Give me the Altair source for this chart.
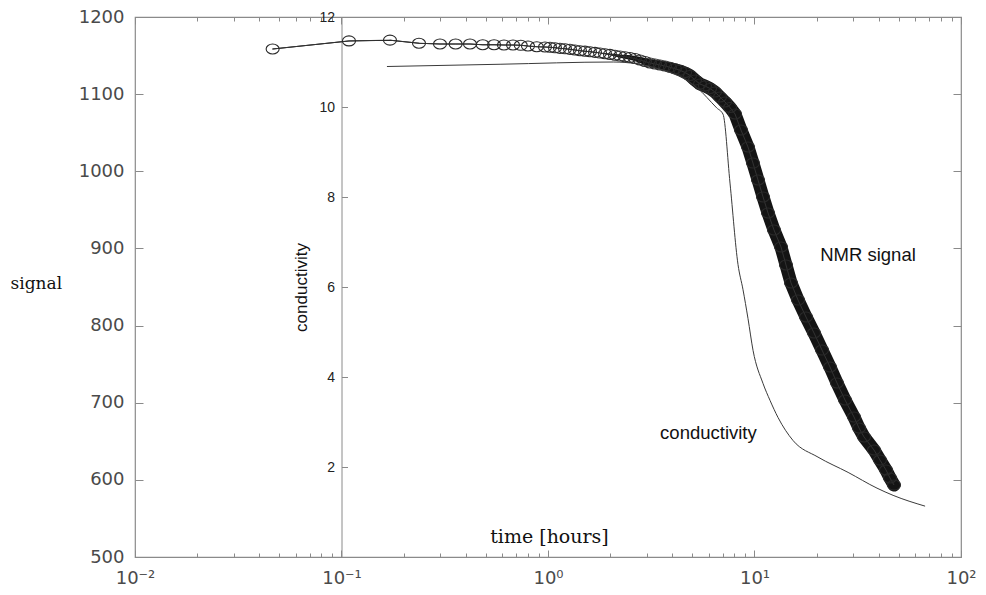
import json
import altair as alt
import pandas as pd

# ---------------- data ----------------
nmr_t = [0.0464, 0.1087, 0.1717, 0.2373, 0.2999, 0.357, 0.419, 0.483, 0.548, 0.612,
         0.677, 0.738, 0.800, 0.882, 0.967, 1.023, 1.081, 1.143, 1.209, 1.278,
         1.351, 1.429, 1.511, 1.597, 1.689, 1.786, 1.888, 1.996, 2.111, 2.232,
         2.360, 2.495, 2.638, 2.790, 2.949, 3.118, 3.298, 3.487, 3.687, 3.897,
         4.121, 4.357, 4.607, 4.872, 5.150, 5.446, 5.757, 6.088, 6.437, 6.806,
         7.196, 7.610, 8.045, 8.60, 9.30, 9.83, 10.40, 11.0, 11.63, 12.43,
         13.44, 14.21, 15.03, 16.25, 17.76, 19.42, 21.23, 23.21, 25.09, 27.44,
         30.33, 32.07, 33.91, 37.91, 40.52, 43.34, 45.32, 47.38]
nmr_signal = [1158.5, 1169, 1170, 1166, 1165, 1165, 1165, 1164, 1164, 1163.7,
              1163.7, 1163.3, 1162.4, 1161.5, 1161.1, 1160.7, 1160.1, 1159.4, 1158.8, 1158.1,
              1157.2, 1156.3, 1155.7, 1155.0, 1154.2, 1153.3, 1152.4, 1151.5, 1150.5, 1149.4,
              1148.4, 1147.5, 1146.2, 1144.3, 1142.3, 1140.4, 1139.1, 1137.8, 1136.5, 1134.8,
              1133.0, 1130.9, 1128.1, 1124.2, 1118.3, 1113.1, 1110.6, 1107.3, 1102.8, 1096.3,
              1089.8, 1082.7, 1074.3, 1053.5, 1031.5, 1010.7, 988.7, 966.7, 945.9, 923.9,
              901.9, 878.5, 855.2, 833.1, 811.1, 790.4, 768.3, 746.3, 725.6, 703.5,
              681.5, 667.2, 655.6, 638.7, 625.7, 612.8, 602.4, 593.3]

cond_t = [0.166, 0.586, 2.07, 3.49, 5.27, 6.56, 7.04, 7.61, 8.32, 8.79,
          9.30, 9.84, 10.99, 11.89, 13.0, 15.36, 20.3, 28.4, 39.2, 46.9,
          67.0]
cond_val = [10.90, 10.95, 11.00, 10.84, 10.43, 9.98, 9.84, 8.31, 6.50, 5.95,
            5.30, 4.59, 3.86, 3.48, 3.10, 2.59, 2.22, 1.88, 1.53, 1.37,
            1.13]

x_major = [0.01, 0.1, 1, 10, 100]
x_labels = ["10⁻²", "10⁻¹", "10⁰", "10¹", "10²"]
x_minor = [k * d for d in [0.01, 0.1, 1, 10] for k in range(2, 10)]
signal_ticks = [500, 600, 700, 800, 900, 1000, 1100, 1200]
cond_ticks = [2, 4, 6, 8, 10, 12]

nmr_label = ["NMR signal"]
nmr_label_t = [20.8]
nmr_label_signal = [891]
cond_label = ["conductivity"]
cond_label_t = [3.49]
cond_label_val = [2.75]

# ---------------- tables ----------------
nmr_df = pd.DataFrame({"t": nmr_t, "signal": nmr_signal})
cond_df = pd.DataFrame({"t": cond_t, "cond": cond_val})
nmr_lab_df = pd.DataFrame({"t": nmr_label_t, "signal": nmr_label_signal, "txt": nmr_label})
cond_lab_df = pd.DataFrame({"t": cond_label_t, "cond": cond_label_val, "txt": cond_label})

W, H = 826, 540
AX = "#8a8a8a"
x_all = x_major + x_minor

xs = alt.Scale(type="log", domain=[0.01, 100], nice=False)
ys = alt.Scale(domain=[500, 1200], nice=False, zero=False)
cs = alt.Scale(domain=[0, 12], nice=False, zero=False)

label_expr = json.dumps(x_labels) + "[round(log(datum.value)/LN10)+2]"
major_test = "indexof(" + json.dumps(x_major) + ", datum.value) >= 0"
tick_len = {"condition": {"test": major_test, "value": 7}, "value": 4}

ellipse = ("M-1,0 C-1,-0.425 -0.552,-0.77 0,-0.77 C0.552,-0.77 1,-0.425 1,0 "
           "C1,0.425 0.552,0.77 0,0.77 C-0.552,0.77 -1,0.425 -1,0 Z")

# layer 1: dense band (trail) + bottom labels + left labels
band = alt.Chart(nmr_df).mark_trail(color="#141414").encode(
    x=alt.X("t:Q", scale=xs, axis=alt.Axis(
        orient="bottom", values=x_major, labelExpr=label_expr, ticks=False, domain=False,
        grid=False, labelFont="DejaVu Sans", labelFontSize=18, labelColor="#4a4a4a",
        labelPadding=12, labelFlush=False,
        title="time [hours]", titleX=414, titleY=-21, titleFont="DejaVu Serif",
        titleFontSize=19, titleFontWeight="normal", titleColor="#111",
        titleAlign="center", titleBaseline="middle")),
    y=alt.Y("signal:Q", scale=ys, axis=alt.Axis(
        orient="left", values=signal_ticks, format="d", ticks=False, domain=False, grid=False,
        labelFont="DejaVu Sans", labelFontSize=18, labelColor="#4a4a4a", labelPadding=11,
        labelFlush=False,
        title="signal", titleAngle=0, titleX=-125, titleY=266, titleAlign="left",
        titleBaseline="middle", titleFont="DejaVu Serif", titleFontSize=17,
        titleFontWeight="normal", titleColor="#111")),
    size=alt.Size("t:Q", scale=alt.Scale(type="log", domain=[1.7, 5], range=[0, 13], clamp=True),
                  legend=None),
    order="t:Q",
)

# layer 2: thin connecting line + inward ticks at bottom and left edges
nmr_line = alt.Chart(nmr_df).mark_line(color="#333", strokeWidth=1).encode(
    x=alt.X("t:Q", scale=xs, axis=alt.Axis(
        orient="top", offset=-H, values=x_all, labels=False, domain=False, grid=False,
        tickSize=tick_len, tickColor=AX, title=None)),
    y=alt.Y("signal:Q", scale=ys, axis=alt.Axis(
        orient="right", offset=-W, values=signal_ticks, labels=False, domain=False,
        grid=False, tickSize=8, tickColor=AX, title=None)),
)

# layer 3: circles + inward ticks at top and right edges
nmr_pts = alt.Chart(nmr_df).mark_point(
    shape=ellipse, size=169, filled=False, stroke="#2a2a2a", strokeWidth=1.1, opacity=1
).encode(
    x=alt.X("t:Q", scale=xs, axis=alt.Axis(
        orient="bottom", offset=-H, values=x_all, labels=False, domain=False, grid=False,
        tickSize=tick_len, tickColor=AX, title=None)),
    y=alt.Y("signal:Q", scale=ys, axis=alt.Axis(
        orient="left", offset=-W, values=signal_ticks, labels=False, domain=False,
        grid=False, tickSize=8, tickColor=AX, title=None)),
)

# layer 4: conductivity line with its axis (labels) at t = 0.1
cond_line = alt.Chart(cond_df).mark_line(color="#3a3a3a", strokeWidth=1, interpolate="monotone").encode(
    x=alt.X("t:Q", scale=xs, axis=None),
    y=alt.Y("cond:Q", scale=cs, axis=alt.Axis(
        orient="left", offset=-206.5, values=cond_ticks, ticks=False, domain=True,
        domainColor=AX, grid=False, labelFont="Liberation Sans", labelFontSize=14,
        labelColor="#222", labelPadding=7,
        title="conductivity", titleX=-40, titleY=270, titleAngle=-90,
        titleAlign="center", titleBaseline="middle", titleFont="Liberation Sans",
        titleFontSize=17, titleFontWeight="normal", titleColor="#111")),
    order="t:Q",
)

# layer 5: conductivity annotation + inward ticks of the conductivity axis
cond_text = alt.Chart(cond_lab_df).mark_text(
    align="left", baseline="middle", font="Liberation Sans", fontSize=18.5, color="#111"
).encode(
    x=alt.X("t:Q", scale=xs, axis=None),
    y=alt.Y("cond:Q", scale=cs, axis=alt.Axis(
        orient="right", offset=-(W - 206.5), values=cond_ticks, labels=False,
        domain=False, grid=False, tickSize=6, tickColor=AX, title=None)),
    text="txt:N",
)

# layer 6: NMR annotation
nmr_text = alt.Chart(nmr_lab_df).mark_text(
    align="left", baseline="middle", font="Liberation Sans", fontSize=18.5, color="#111"
).encode(
    x=alt.X("t:Q", scale=xs, axis=None),
    y=alt.Y("signal:Q", scale=ys, axis=None),
    text="txt:N",
)

chart = alt.layer(band, nmr_line, nmr_pts, cond_line, cond_text, nmr_text).resolve_scale(
    x="independent", y="independent", size="independent"
).properties(
    width=W, height=H,
    autosize=alt.AutoSizeParams(type="none"),
    padding={"left": 127, "top": 9, "right": 17, "bottom": 36},
    background="white",
).configure_view(stroke=AX, strokeWidth=1.2)

chart.save("out.html", embed_options={"renderer": "svg", "actions": False})
